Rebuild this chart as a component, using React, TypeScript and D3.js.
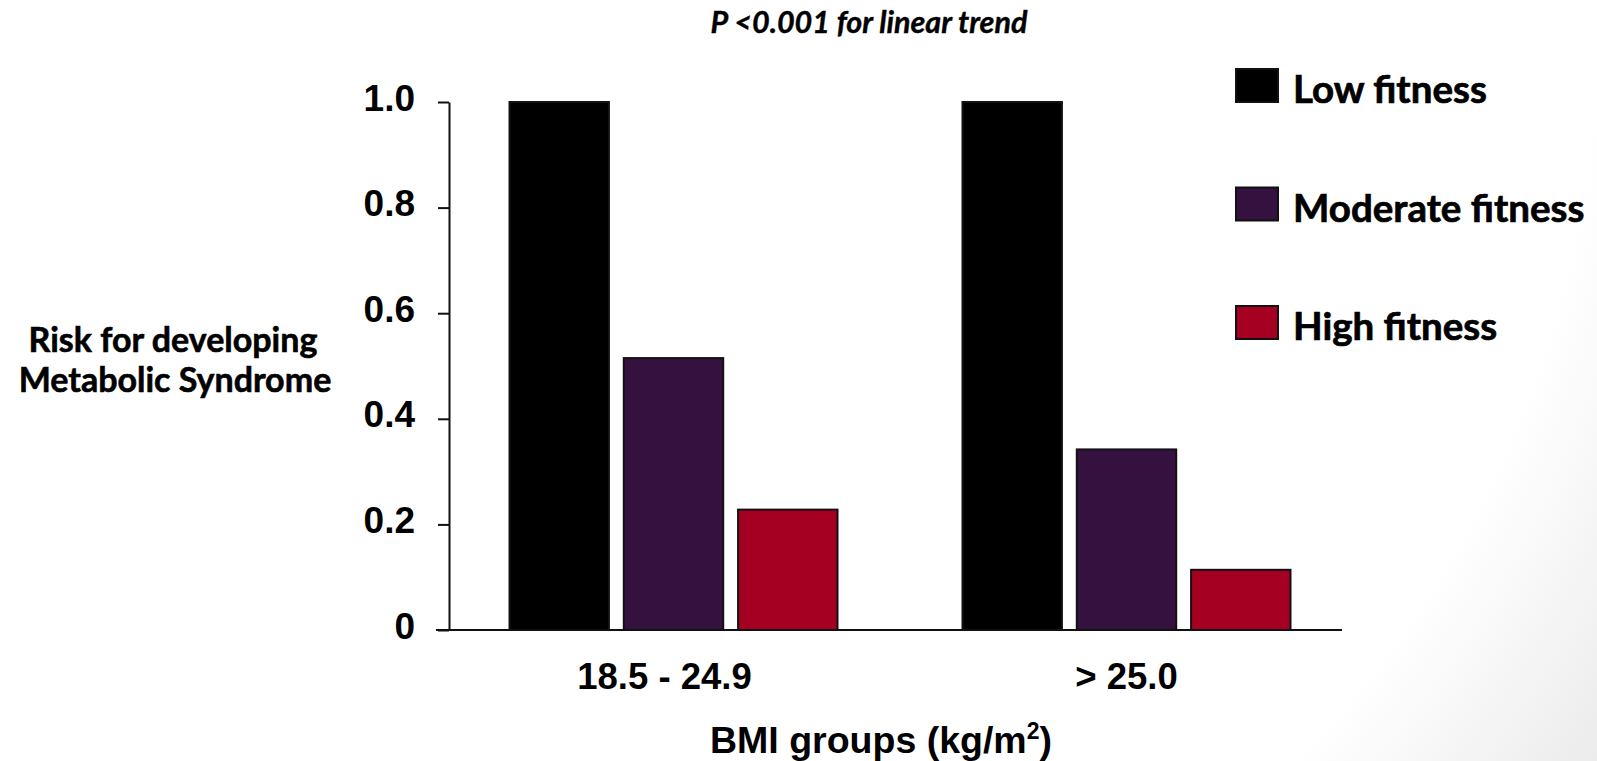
import { useEffect, useRef } from 'react';
import * as d3 from 'd3';

const groups = ['18.5 - 24.9', '> 25.0'];
const seriesNames = ['Low fitness', 'Moderate fitness', 'High fitness'];
const lowFitness = [1.0, 1.0];
const moderateFitness = [0.515, 0.342];
const highFitness = [0.228, 0.114];
const yTicks = [0, 0.2, 0.4, 0.6, 0.8, 1.0];
const seriesColors = ['#000000', '#35113f', '#a50021'];

const W = 1597;
const H = 761;
const arialFont = '"Liberation Sans", Arial, sans-serif';
const calibriFont = 'Lato, "Noto Sans", sans-serif';

export default function App() {
  const ref = useRef<SVGSVGElement>(null);

  useEffect(() => {
    const svg = d3.select(ref.current);
    svg.selectAll('*').remove();

    const series = [lowFitness, moderateFitness, highFitness];
    const rows = groups.flatMap((g, gi) =>
      seriesNames.map((s, si) => ({ group: g, name: s, value: series[si][gi], color: seriesColors[si] }))
    );

    // faint slide shading in the bottom right corner
    const defs = svg.append('defs');
    const grad = defs
      .append('radialGradient')
      .attr('id', 'bg')
      .attr('gradientUnits', 'userSpaceOnUse')
      .attr('cx', 500)
      .attr('cy', 0)
      .attr('r', 1340);
    grad.append('stop').attr('offset', '82%').attr('stop-color', '#ffffff');
    grad.append('stop').attr('offset', '100%').attr('stop-color', '#ebebeb');
    svg.append('rect').attr('width', W).attr('height', H).attr('fill', 'url(#bg)');

    const y = d3.scaleLinear().domain([0, 1]).range([630, 102]);
    const x = d3.scalePoint().domain(groups).range([447, 1353]).padding(0.5);
    const inner = d3.scaleBand().domain(seriesNames).range([-164, 164]).paddingInner(0.13);

    // bars
    svg
      .append('g')
      .selectAll('rect')
      .data(rows)
      .enter()
      .append('rect')
      .attr('x', d => x(d.group)! + inner(d.name)!)
      .attr('y', d => y(d.value))
      .attr('width', inner.bandwidth())
      .attr('height', d => y(0) - y(d.value))
      .attr('fill', d => d.color)
      .attr('stroke', '#141014')
      .attr('stroke-width', 2);

    // baseline
    svg
      .append('line')
      .attr('x1', 436)
      .attr('x2', 1342)
      .attr('y1', y(0))
      .attr('y2', y(0))
      .attr('stroke', '#111')
      .attr('stroke-width', 2);

    // y axis
    const yAxis = d3
      .axisLeft(y)
      .tickValues(yTicks)
      .tickSize(11)
      .tickSizeOuter(0)
      .tickPadding(23)
      .tickFormat(d => (d === 0 ? '0' : d3.format('.1f')(d as number)));
    const yg = svg.append('g').attr('transform', 'translate(449,0)').call(yAxis);
    yg.selectAll('path, line').attr('stroke', '#111').attr('stroke-width', 2);
    yg.selectAll('text')
      .attr('dy', '0.22em')
      .style('font-family', arialFont)
      .style('font-weight', 'bold')
      .style('font-size', '37px')
      .attr('fill', '#000');

    // category labels
    svg
      .append('g')
      .selectAll('text')
      .data(groups)
      .enter()
      .append('text')
      .attr('x', (d, i) => x(d)! - (i === 0 ? 9 : 0))
      .attr('y', 689)
      .attr('text-anchor', 'middle')
      .style('font-family', arialFont)
      .style('font-weight', 'bold')
      .style('font-size', '36.5px')
      .text(d => d);

    // x title
    const xt = svg
      .append('text')
      .attr('x', 881)
      .attr('y', 753)
      .attr('text-anchor', 'middle')
      .style('font-family', arialFont)
      .style('font-weight', 'bold')
      .style('font-size', '37.5px');
    xt.append('tspan').text('BMI groups (kg/m');
    xt.append('tspan').attr('dy', -14).style('font-size', '23px').text('2');
    xt.append('tspan').attr('dy', 14).text(')');

    // y title
    const yt = svg
      .append('text')
      .attr('text-anchor', 'middle')
      .attr('stroke', '#000')
      .attr('stroke-width', 0.6)
      .style('font-family', calibriFont)
      .style('font-weight', 'bold')
      .style('font-size', '34px');
    yt.append('tspan').attr('x', 173).attr('y', 352).text('Risk for developing');
    yt.append('tspan').attr('x', 175).attr('y', 392).text('Metabolic Syndrome');

    // trend note
    svg
      .append('text')
      .attr('x', 869)
      .attr('y', 33)
      .attr('text-anchor', 'middle')
      .attr('stroke', '#000')
      .attr('stroke-width', 0.4)
      .style('font-family', calibriFont)
      .style('font-weight', 'bold')
      .style('font-style', 'italic')
      .style('font-size', '30.5px')
      .text('P <0.001 for linear trend');

    // legend
    const legend = svg
      .append('g')
      .selectAll('g')
      .data(seriesNames)
      .enter()
      .append('g')
      .attr('transform', (d, i) => `translate(1236,${103 + i * 118.5})`);
    legend
      .append('rect')
      .attr('x', 0)
      .attr('y', -34)
      .attr('width', 42)
      .attr('height', 33)
      .attr('fill', (d, i) => seriesColors[i])
      .attr('stroke', '#111')
      .attr('stroke-width', 2);
    legend
      .append('text')
      .attr('x', 57)
      .attr('y', 0)
      .attr('stroke', '#000')
      .attr('stroke-width', 0.7)
      .style('font-family', calibriFont)
      .style('font-weight', 'bold')
      .style('font-size', '38.5px')
      .text(d => d);
  }, []);

  return (
    <svg
      ref={ref}
      width={W}
      height={H}
      style={{ position: 'absolute', left: 0, top: 0, background: '#fff' }}
    />
  );
}
